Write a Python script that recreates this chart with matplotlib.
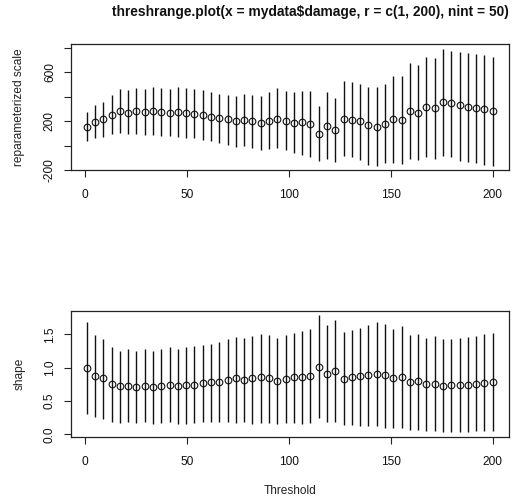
import matplotlib
matplotlib.use("Agg")
import matplotlib.pyplot as plt

plt.rcParams['font.family'] = ['Liberation Sans', 'DejaVu Sans']

thresholds = [1.00, 5.06, 9.12, 13.18, 17.24, 21.31, 25.37, 29.43, 33.49, 37.55,
              41.61, 45.67, 49.73, 53.80, 57.86, 61.92, 65.98, 70.04, 74.10, 78.16,
              82.22, 86.29, 90.35, 94.41, 98.47, 102.53, 106.59, 110.65, 114.71, 118.78,
              122.84, 126.90, 130.96, 135.02, 139.08, 143.14, 147.20, 151.27, 155.33, 159.39,
              163.45, 167.51, 171.57, 175.63, 179.69, 183.76, 187.82, 191.88, 195.94, 200.00]

scale_est = [156, 197, 216, 251, 287, 270, 287, 278, 287, 278,
             268, 278, 270, 257, 251, 238, 228, 216, 200, 212,
             202, 189, 202, 221, 205, 189, 192, 175, 99, 164,
             131, 221, 211, 200, 167, 156, 175, 219, 211, 287,
             270, 319, 306, 360, 347, 333, 319, 306, 301, 287]
scale_lo = [35, 63, 69, 94, 107, 96, 94, 86, 90, 77,
            77, 72, 61, 63, 50, 40, 20, 9, -8, 0,
            -18, -32, -27, -18, -37, -59, -73, -92, -127, -106,
            -133, -86, -97, -116, -155, -165, -143, -141, -152, -106,
            -116, -92, -108, -86, -92, -122, -133, -143, -155, -168]
scale_hi = [277, 333, 360, 417, 464, 456, 472, 464, 480, 472,
            464, 480, 472, 464, 453, 440, 423, 417, 404, 423,
            417, 404, 437, 472, 445, 440, 445, 445, 328, 437,
            390, 527, 521, 507, 480, 478, 505, 573, 568, 677,
            658, 723, 718, 794, 777, 767, 758, 753, 740, 726]

shape_est = [1.00, 0.875, 0.84, 0.755, 0.72, 0.73, 0.705, 0.73, 0.705, 0.725,
             0.745, 0.72, 0.735, 0.745, 0.77, 0.78, 0.79, 0.815, 0.84, 0.82,
             0.84, 0.855, 0.84, 0.805, 0.83, 0.855, 0.855, 0.88, 1.01, 0.91,
             0.945, 0.825, 0.855, 0.87, 0.89, 0.91, 0.89, 0.84, 0.86, 0.78,
             0.795, 0.76, 0.76, 0.725, 0.735, 0.745, 0.745, 0.76, 0.77, 0.78]
shape_lo = [0.30, 0.26, 0.23, 0.19, 0.17, 0.18, 0.165, 0.18, 0.16, 0.165,
            0.18, 0.16, 0.16, 0.17, 0.18, 0.18, 0.19, 0.18, 0.165, 0.18,
            0.16, 0.17, 0.17, 0.16, 0.165, 0.175, 0.16, 0.165, 0.24, 0.19,
            0.19, 0.14, 0.135, 0.13, 0.13, 0.13, 0.10, 0.09, 0.09, 0.07,
            0.06, 0.05, 0.05, 0.03, 0.03, 0.04, 0.04, 0.05, 0.05, 0.05]
shape_hi = [1.68, 1.49, 1.43, 1.31, 1.25, 1.275, 1.255, 1.285, 1.255, 1.285,
            1.305, 1.285, 1.305, 1.32, 1.34, 1.355, 1.385, 1.43, 1.46, 1.44,
            1.47, 1.51, 1.49, 1.45, 1.49, 1.52, 1.55, 1.58, 1.79, 1.64,
            1.71, 1.54, 1.56, 1.60, 1.64, 1.69, 1.655, 1.58, 1.625, 1.49,
            1.505, 1.45, 1.475, 1.425, 1.43, 1.45, 1.465, 1.48, 1.50, 1.515]

x_ticks = [0, 50, 100, 150, 200]
scale_ticks = [-200, 0, 200, 400, 600, 800]
scale_ticklabels = ["-200", "", "200", "", "600", ""]
shape_ticks = [0.0, 0.5, 1.0, 1.5]
shape_ticklabels = ["0.0", "0.5", "1.0", "1.5"]

title = "threshrange.plot(x = mydata$damage, r = c(1, 200), nint = 50)"

W, H = 513, 501
fig = plt.figure(figsize=(W / 100, H / 100), dpi=100)

FS = 8.6

def make_axes(top_px, bottom_px):
    left_px, right_px = 70.5, 509
    return fig.add_axes([left_px / W, 1 - bottom_px / H,
                         (right_px - left_px) / W, (bottom_px - top_px) / H])

ax1 = make_axes(43.7, 170.3)
ax2 = make_axes(310.7, 437.3)

def draw(ax, est, lo, hi, yticks, yticklabels, ylim):
    ax.vlines(thresholds, lo, hi, colors='#111111', linewidth=1.0)
    ax.plot(thresholds, est, linestyle='none', marker='o', markersize=4.8,
            markerfacecolor='none', markeredgecolor='#111111', markeredgewidth=0.8)
    ax.set_xlim(-6.96, 207.96)
    ax.set_ylim(*ylim)
    ax.set_xticks(x_ticks)
    ax.set_xticklabels([str(t) for t in x_ticks])
    ax.set_yticks(yticks)
    ax.set_yticklabels(yticklabels, rotation=90, va='center')
    ax.tick_params(axis='both', length=5, width=0.8, color='#222222',
                   labelsize=FS, labelcolor='#111111')
    ax.tick_params(axis='x', pad=8.5)
    ax.tick_params(axis='y', pad=5.5)
    for s in ax.spines.values():
        s.set_linewidth(0.9)
        s.set_color('#222222')

draw(ax1, scale_est, scale_lo, scale_hi, scale_ticks, scale_ticklabels, (-202, 835))
draw(ax2, shape_est, shape_lo, shape_hi, shape_ticks, shape_ticklabels, (-0.045, 1.854))

fig.text(310 / W, 1 - 12 / H, title, ha='center', va='center',
         fontsize=9.9, fontweight='bold', color='#111111')
fig.text(19.5 / W, 1 - 107 / H, "reparameterized scale", rotation=90,
         ha='center', va='center', fontsize=FS, color='#222222')
fig.text(19.5 / W, 1 - 374 / H, "shape", rotation=90,
         ha='center', va='center', fontsize=FS, color='#222222')
fig.text(289.7 / W, 1 - 491 / H, "Threshold", ha='center', va='center',
         fontsize=FS, color='#222222')

fig.savefig("out.png", dpi=100)
